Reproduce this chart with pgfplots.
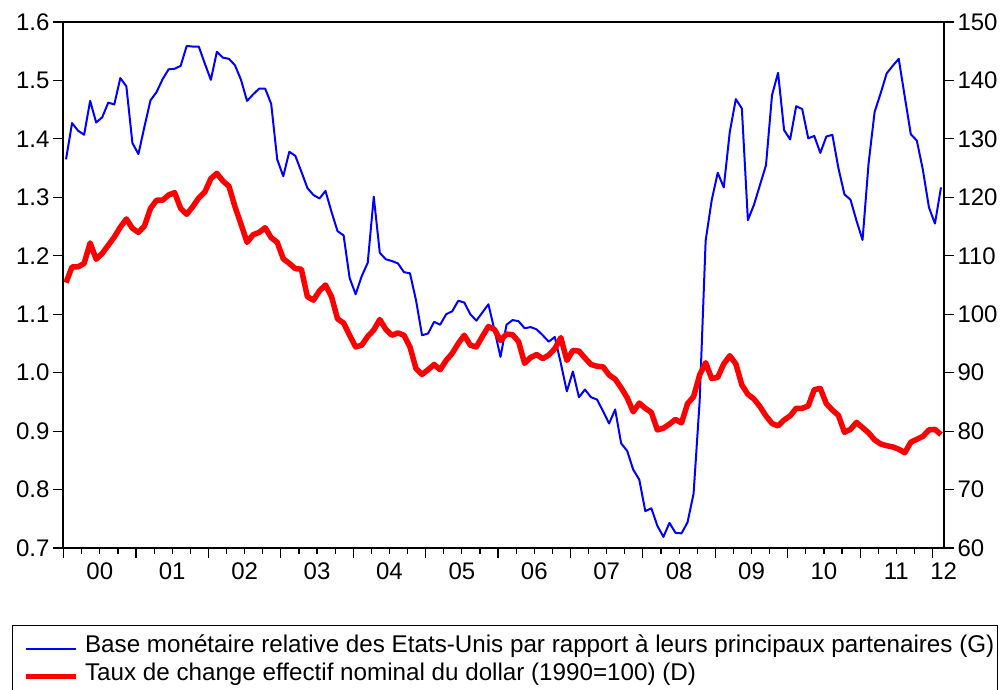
\documentclass[border=0pt]{standalone}
\usepackage{fontspec}
\setmainfont{Liberation Sans}
\usepackage{pgfplots}
\pgfplotsset{compat=1.18}
\usepackage{pgfplotstable}

\pgfplotstableread{
m v
0 1.365
1 1.427
2 1.414
3 1.407
4 1.465
5 1.428
6 1.437
7 1.462
8 1.459
9 1.504
10 1.490
11 1.393
12 1.374
13 1.421
14 1.466
15 1.480
16 1.502
17 1.519
18 1.520
19 1.525
20 1.559
21 1.558
22 1.558
23 1.529
24 1.501
25 1.549
26 1.539
27 1.537
28 1.526
29 1.501
30 1.465
31 1.476
32 1.486
33 1.486
34 1.460
35 1.365
36 1.336
37 1.378
38 1.371
39 1.344
40 1.316
41 1.304
42 1.298
43 1.311
44 1.275
45 1.242
46 1.235
47 1.162
48 1.134
49 1.165
50 1.188
51 1.301
52 1.205
53 1.194
54 1.191
55 1.187
56 1.172
57 1.170
58 1.124
59 1.064
60 1.067
61 1.087
62 1.082
63 1.100
64 1.105
65 1.123
66 1.120
67 1.100
68 1.089
69 1.103
70 1.117
71 1.073
72 1.027
73 1.082
74 1.090
75 1.088
76 1.076
77 1.078
78 1.074
79 1.064
80 1.053
81 1.061
82 1.016
83 0.968
84 1.002
85 0.958
86 0.971
87 0.958
88 0.954
89 0.934
90 0.913
91 0.937
92 0.879
93 0.866
94 0.834
95 0.817
96 0.763
97 0.768
98 0.738
99 0.719
100 0.743
101 0.726
102 0.725
103 0.744
104 0.793
105 0.950
106 1.226
107 1.295
108 1.342
109 1.317
110 1.412
111 1.468
112 1.452
113 1.261
114 1.287
115 1.321
116 1.355
117 1.475
118 1.513
119 1.415
120 1.399
121 1.456
122 1.451
123 1.401
124 1.405
125 1.376
126 1.404
127 1.407
128 1.350
129 1.305
130 1.296
131 1.260
132 1.227
133 1.358
134 1.446
135 1.478
136 1.512
137 1.525
138 1.537
139 1.472
140 1.408
141 1.397
142 1.347
143 1.283
144 1.255
145 1.317
}\blueT

\pgfplotstableread{
m v
0 105.4
1 108.1
2 108.1
3 108.7
4 112.2
5 109.4
6 110.4
7 111.8
8 113.2
9 114.9
10 116.3
11 114.7
12 114.0
13 115.1
14 118.1
15 119.5
16 119.5
17 120.4
18 120.8
19 118.1
20 117.1
21 118.4
22 119.9
23 120.9
24 123.2
25 124.1
26 122.8
27 121.9
28 118.4
29 115.4
30 112.3
31 113.6
32 114.0
33 114.8
34 113.1
35 112.3
36 109.5
37 108.7
38 107.8
39 107.7
40 103.0
41 102.4
42 104.0
43 105.0
44 103.0
45 99.2
46 98.5
47 96.4
48 94.4
49 94.7
50 96.2
51 97.3
52 99.1
53 97.4
54 96.4
55 96.8
56 96.4
57 94.4
58 90.7
59 89.7
60 90.5
61 91.4
62 90.5
63 92.1
64 93.3
65 95.0
66 96.4
67 94.7
68 94.4
69 96.2
70 97.9
71 97.4
72 95.5
73 96.6
74 96.5
75 95.3
76 91.6
77 92.6
78 93.1
79 92.4
80 93.0
81 94.1
82 96.0
83 92.1
84 93.8
85 93.7
86 92.5
87 91.4
88 91.1
89 91.0
90 89.6
91 88.9
92 87.4
93 85.7
94 83.3
95 84.8
96 83.9
97 83.2
98 80.2
99 80.5
100 81.2
101 82.0
102 81.4
103 84.7
104 85.9
105 89.6
106 91.7
107 89.0
108 89.2
109 91.5
110 92.9
111 91.5
112 87.9
113 86.3
114 85.5
115 84.2
116 82.6
117 81.3
118 80.9
119 81.9
120 82.6
121 83.9
122 83.9
123 84.3
124 87.1
125 87.3
126 84.7
127 83.6
128 82.7
129 79.8
130 80.3
131 81.5
132 80.6
133 79.7
134 78.5
135 77.8
136 77.5
137 77.3
138 76.9
139 76.3
140 78.1
141 78.6
142 79.1
143 80.2
144 80.3
145 79.4
}\redT

\begin{document}
\begin{tikzpicture}[x=1pt,y=1pt]
\useasboundingbox (0,0) rectangle (1007,690);
\pgfplotsset{
  common/.style={
    scale only axis, width=881pt, height=526pt,
    at={(63pt,142pt)}, anchor=south west,
    xmin=-0.5, xmax=145.5,
    tick align=outside,
    major tick length=10pt, minor tick length=6pt,
    tick style={black, line width=1.2pt},
    axis line style={line width=1.3pt},
    /pgf/number format/assume math mode=true,
    tick label style={font=\fontsize{24}{28}\selectfont},
  }
}
\begin{axis}[common,
  ymin=0.7, ymax=1.6,
  ytick={0.7,0.8,0.9,1.0,1.1,1.2,1.3,1.4,1.5,1.6},
  yticklabel style={/pgf/number format/.cd, fixed, fixed zerofill, precision=1},
  xtick pos=bottom, ytick pos=left,
  xtick={-0.4,11.6,23.6,35.6,47.6,59.6,71.6,83.6,95.6,107.6,119.6,131.6,143.6},
  xticklabels={},
  minor xtick={2.6,5.6,8.6,14.6,17.6,20.6,26.6,29.6,32.6,38.6,41.6,44.6,50.6,53.6,56.6,62.6,65.6,68.6,74.6,77.6,80.6,86.6,89.6,92.6,98.6,101.6,104.6,110.6,113.6,116.6,122.6,125.6,128.6,134.6,137.6,140.6},
  extra x ticks={5.6,17.6,29.6,41.6,53.6,65.6,77.6,89.6,101.6,113.6,125.6,137.6,145.45},
  extra x tick labels={00,01,02,03,04,05,06,07,08,09,10,11,12},
  extra x tick style={major tick length=0pt, tick style={draw=none}},
  xticklabel style={yshift=-11pt},
]
\addplot[blue, line width=2pt, line join=round] table[x=m, y=v] {\blueT};
\end{axis}
\begin{axis}[common,
  ymin=60, ymax=150,
  ytick={60,70,80,90,100,110,120,130,140,150},
  axis y line*=right, axis x line=none,
  legend cell align=left,
  legend image code/.code={
    \draw[#1] (0pt,0pt) -- (50pt,0pt);
    \path (-8pt,-10pt) (56pt,4pt);
  },
  legend style={at={(-0.0579,-0.1464)}, anchor=north west,
    draw=black, line width=1.2pt, fill=white,
    inner xsep=3pt, inner ysep=9pt, row sep=0pt,
    font=\fontsize{24.2}{28}\selectfont,
    nodes={inner sep=0pt, text height=18pt, text depth=10pt}},
]
\addlegendimage{blue, line width=2pt}
\addlegendentry{Base monétaire relative des Etats-Unis par rapport à leurs principaux partenaires (G)}
\addplot[red, line width=5.5pt, line join=round] table[x=m, y=v] {\redT};
\addlegendentry{Taux de change effectif nominal du dollar (1990=100) (D)}
\end{axis}
\end{tikzpicture}
\end{document}
